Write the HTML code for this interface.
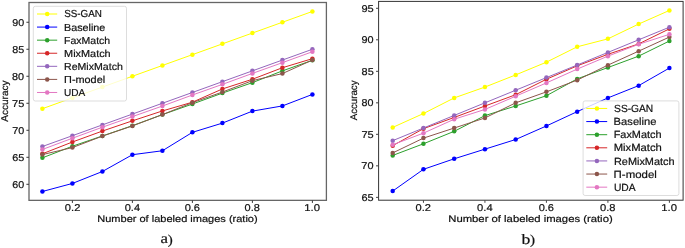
<!DOCTYPE html>
<html><head><meta charset="utf-8"><style>
html,body{margin:0;padding:0;background:#fff;}
body{width:685px;height:248px;overflow:hidden;}
svg{display:block;will-change:transform;}
text{text-rendering:geometricPrecision;stroke:#111;stroke-width:0.2px;}
text{font-family:"Liberation Sans",sans-serif;}
</style></head><body>
<svg width="685" height="248" viewBox="0 0 685 248">
<rect width="685" height="248" fill="#fff"/>
<polyline points="42.4,108.68 72.4,97.88 102.4,87.07 132.4,76.27 162.4,65.47 192.4,54.66 222.4,43.86 252.4,33.05 282.4,22.25 312.4,11.45" fill="none" stroke="#ffff00" stroke-width="1.0" stroke-linejoin="round" stroke-linecap="round"/>
<circle cx="42.4" cy="108.68" r="2.25" fill="#ffff00"/>
<circle cx="72.4" cy="97.88" r="2.25" fill="#ffff00"/>
<circle cx="102.4" cy="87.07" r="2.25" fill="#ffff00"/>
<circle cx="132.4" cy="76.27" r="2.25" fill="#ffff00"/>
<circle cx="162.4" cy="65.47" r="2.25" fill="#ffff00"/>
<circle cx="192.4" cy="54.66" r="2.25" fill="#ffff00"/>
<circle cx="222.4" cy="43.86" r="2.25" fill="#ffff00"/>
<circle cx="252.4" cy="33.05" r="2.25" fill="#ffff00"/>
<circle cx="282.4" cy="22.25" r="2.25" fill="#ffff00"/>
<circle cx="312.4" cy="11.45" r="2.25" fill="#ffff00"/>
<polyline points="42.4,191.49 72.4,183.45 102.4,171.51 132.4,154.71 162.4,150.76 192.4,132.34 222.4,123.11 252.4,111.11 282.4,105.93 312.4,94.42" fill="none" stroke="#0000ff" stroke-width="1.0" stroke-linejoin="round" stroke-linecap="round"/>
<circle cx="42.4" cy="191.49" r="2.25" fill="#0000ff"/>
<circle cx="72.4" cy="183.45" r="2.25" fill="#0000ff"/>
<circle cx="102.4" cy="171.51" r="2.25" fill="#0000ff"/>
<circle cx="132.4" cy="154.71" r="2.25" fill="#0000ff"/>
<circle cx="162.4" cy="150.76" r="2.25" fill="#0000ff"/>
<circle cx="192.4" cy="132.34" r="2.25" fill="#0000ff"/>
<circle cx="222.4" cy="123.11" r="2.25" fill="#0000ff"/>
<circle cx="252.4" cy="111.11" r="2.25" fill="#0000ff"/>
<circle cx="282.4" cy="105.93" r="2.25" fill="#0000ff"/>
<circle cx="312.4" cy="94.42" r="2.25" fill="#0000ff"/>
<polyline points="42.4,157.84 72.4,146.23 102.4,135.96 132.4,125.7 162.4,114.62 192.4,104.04 222.4,93.12 252.4,82.64 282.4,70.87 312.4,60.33" fill="none" stroke="#2ca02c" stroke-width="1.0" stroke-linejoin="round" stroke-linecap="round"/>
<circle cx="42.4" cy="157.84" r="2.25" fill="#2ca02c"/>
<circle cx="72.4" cy="146.23" r="2.25" fill="#2ca02c"/>
<circle cx="102.4" cy="135.96" r="2.25" fill="#2ca02c"/>
<circle cx="132.4" cy="125.7" r="2.25" fill="#2ca02c"/>
<circle cx="162.4" cy="114.62" r="2.25" fill="#2ca02c"/>
<circle cx="192.4" cy="104.04" r="2.25" fill="#2ca02c"/>
<circle cx="222.4" cy="93.12" r="2.25" fill="#2ca02c"/>
<circle cx="252.4" cy="82.64" r="2.25" fill="#2ca02c"/>
<circle cx="282.4" cy="70.87" r="2.25" fill="#2ca02c"/>
<circle cx="312.4" cy="60.33" r="2.25" fill="#2ca02c"/>
<polyline points="42.4,153.79 72.4,142.01 102.4,131.05 132.4,120.84 162.4,110.95 192.4,102.2 222.4,88.96 252.4,79.24 282.4,67.73 312.4,58.66" fill="none" stroke="#d62728" stroke-width="1.0" stroke-linejoin="round" stroke-linecap="round"/>
<circle cx="42.4" cy="153.79" r="2.25" fill="#d62728"/>
<circle cx="72.4" cy="142.01" r="2.25" fill="#d62728"/>
<circle cx="102.4" cy="131.05" r="2.25" fill="#d62728"/>
<circle cx="132.4" cy="120.84" r="2.25" fill="#d62728"/>
<circle cx="162.4" cy="110.95" r="2.25" fill="#d62728"/>
<circle cx="192.4" cy="102.2" r="2.25" fill="#d62728"/>
<circle cx="222.4" cy="88.96" r="2.25" fill="#d62728"/>
<circle cx="252.4" cy="79.24" r="2.25" fill="#d62728"/>
<circle cx="282.4" cy="67.73" r="2.25" fill="#d62728"/>
<circle cx="312.4" cy="58.66" r="2.25" fill="#d62728"/>
<polyline points="42.4,146.5 72.4,135.69 102.4,124.89 132.4,114.08 162.4,103.28 192.4,92.48 222.4,81.67 252.4,70.87 282.4,60.06 312.4,49.26" fill="none" stroke="#9467bd" stroke-width="1.0" stroke-linejoin="round" stroke-linecap="round"/>
<circle cx="42.4" cy="146.5" r="2.25" fill="#9467bd"/>
<circle cx="72.4" cy="135.69" r="2.25" fill="#9467bd"/>
<circle cx="102.4" cy="124.89" r="2.25" fill="#9467bd"/>
<circle cx="132.4" cy="114.08" r="2.25" fill="#9467bd"/>
<circle cx="162.4" cy="103.28" r="2.25" fill="#9467bd"/>
<circle cx="192.4" cy="92.48" r="2.25" fill="#9467bd"/>
<circle cx="222.4" cy="81.67" r="2.25" fill="#9467bd"/>
<circle cx="252.4" cy="70.87" r="2.25" fill="#9467bd"/>
<circle cx="282.4" cy="60.06" r="2.25" fill="#9467bd"/>
<circle cx="312.4" cy="49.26" r="2.25" fill="#9467bd"/>
<polyline points="42.4,154.6 72.4,147.58 102.4,136.12 132.4,125.91 162.4,114.62 192.4,102.63 222.4,92.04 252.4,80.65 282.4,73.57 312.4,60.06" fill="none" stroke="#8c564b" stroke-width="1.0" stroke-linejoin="round" stroke-linecap="round"/>
<circle cx="42.4" cy="154.6" r="2.25" fill="#8c564b"/>
<circle cx="72.4" cy="147.58" r="2.25" fill="#8c564b"/>
<circle cx="102.4" cy="136.12" r="2.25" fill="#8c564b"/>
<circle cx="132.4" cy="125.91" r="2.25" fill="#8c564b"/>
<circle cx="162.4" cy="114.62" r="2.25" fill="#8c564b"/>
<circle cx="192.4" cy="102.63" r="2.25" fill="#8c564b"/>
<circle cx="222.4" cy="92.04" r="2.25" fill="#8c564b"/>
<circle cx="252.4" cy="80.65" r="2.25" fill="#8c564b"/>
<circle cx="282.4" cy="73.57" r="2.25" fill="#8c564b"/>
<circle cx="312.4" cy="60.06" r="2.25" fill="#8c564b"/>
<polyline points="42.4,149.47 72.4,138.23 102.4,127.21 132.4,116.62 162.4,106.04 192.4,95.01 222.4,84.37 252.4,73.41 282.4,62.66 312.4,51.74" fill="none" stroke="#e377c2" stroke-width="1.0" stroke-linejoin="round" stroke-linecap="round"/>
<circle cx="42.4" cy="149.47" r="2.25" fill="#e377c2"/>
<circle cx="72.4" cy="138.23" r="2.25" fill="#e377c2"/>
<circle cx="102.4" cy="127.21" r="2.25" fill="#e377c2"/>
<circle cx="132.4" cy="116.62" r="2.25" fill="#e377c2"/>
<circle cx="162.4" cy="106.04" r="2.25" fill="#e377c2"/>
<circle cx="192.4" cy="95.01" r="2.25" fill="#e377c2"/>
<circle cx="222.4" cy="84.37" r="2.25" fill="#e377c2"/>
<circle cx="252.4" cy="73.41" r="2.25" fill="#e377c2"/>
<circle cx="282.4" cy="62.66" r="2.25" fill="#e377c2"/>
<circle cx="312.4" cy="51.74" r="2.25" fill="#e377c2"/>
<rect x="33.3" y="6.3" width="93.2" height="94.7" rx="2" ry="2" fill="#fff" fill-opacity="0.8" stroke="#d4d4d4" stroke-width="0.8"/>
<line x1="37" y1="14" x2="57.2" y2="14" stroke="#ffff00" stroke-width="1.0"/>
<circle cx="47.2" cy="14" r="2.25" fill="#ffff00"/>
<line x1="37" y1="27.08" x2="57.2" y2="27.08" stroke="#0000ff" stroke-width="1.0"/>
<circle cx="47.2" cy="27.08" r="2.25" fill="#0000ff"/>
<line x1="37" y1="40.16" x2="57.2" y2="40.16" stroke="#2ca02c" stroke-width="1.0"/>
<circle cx="47.2" cy="40.16" r="2.25" fill="#2ca02c"/>
<line x1="37" y1="53.24" x2="57.2" y2="53.24" stroke="#d62728" stroke-width="1.0"/>
<circle cx="47.2" cy="53.24" r="2.25" fill="#d62728"/>
<line x1="37" y1="66.32" x2="57.2" y2="66.32" stroke="#9467bd" stroke-width="1.0"/>
<circle cx="47.2" cy="66.32" r="2.25" fill="#9467bd"/>
<line x1="37" y1="79.4" x2="57.2" y2="79.4" stroke="#8c564b" stroke-width="1.0"/>
<circle cx="47.2" cy="79.4" r="2.25" fill="#8c564b"/>
<line x1="37" y1="92.48" x2="57.2" y2="92.48" stroke="#e377c2" stroke-width="1.0"/>
<circle cx="47.2" cy="92.48" r="2.25" fill="#e377c2"/>
<rect x="29" y="2.5" width="297.4" height="197.85" fill="none" stroke="#666" stroke-width="1.3"/>
<line x1="26.4" y1="184.31" x2="29" y2="184.31" stroke="#3a3a3a" stroke-width="1.0"/>
<line x1="26.4" y1="157.3" x2="29" y2="157.3" stroke="#3a3a3a" stroke-width="1.0"/>
<line x1="26.4" y1="130.29" x2="29" y2="130.29" stroke="#3a3a3a" stroke-width="1.0"/>
<line x1="26.4" y1="103.28" x2="29" y2="103.28" stroke="#3a3a3a" stroke-width="1.0"/>
<line x1="26.4" y1="76.27" x2="29" y2="76.27" stroke="#3a3a3a" stroke-width="1.0"/>
<line x1="26.4" y1="49.26" x2="29" y2="49.26" stroke="#3a3a3a" stroke-width="1.0"/>
<line x1="26.4" y1="22.25" x2="29" y2="22.25" stroke="#3a3a3a" stroke-width="1.0"/>
<line x1="72.4" y1="200.35" x2="72.4" y2="202.95" stroke="#3a3a3a" stroke-width="1.0"/>
<line x1="132.4" y1="200.35" x2="132.4" y2="202.95" stroke="#3a3a3a" stroke-width="1.0"/>
<line x1="192.4" y1="200.35" x2="192.4" y2="202.95" stroke="#3a3a3a" stroke-width="1.0"/>
<line x1="252.4" y1="200.35" x2="252.4" y2="202.95" stroke="#3a3a3a" stroke-width="1.0"/>
<line x1="312.4" y1="200.35" x2="312.4" y2="202.95" stroke="#3a3a3a" stroke-width="1.0"/>
<polyline points="392.7,127.41 423.44,113.54 454.19,97.91 484.93,87.07 515.68,74.91 546.42,62.18 577.17,46.81 607.91,38.86 638.66,24.05 669.4,10.44" fill="none" stroke="#ffff00" stroke-width="1.0" stroke-linejoin="round" stroke-linecap="round"/>
<circle cx="392.7" cy="127.41" r="2.25" fill="#ffff00"/>
<circle cx="423.44" cy="113.54" r="2.25" fill="#ffff00"/>
<circle cx="454.19" cy="97.91" r="2.25" fill="#ffff00"/>
<circle cx="484.93" cy="87.07" r="2.25" fill="#ffff00"/>
<circle cx="515.68" cy="74.91" r="2.25" fill="#ffff00"/>
<circle cx="546.42" cy="62.18" r="2.25" fill="#ffff00"/>
<circle cx="577.17" cy="46.81" r="2.25" fill="#ffff00"/>
<circle cx="607.91" cy="38.86" r="2.25" fill="#ffff00"/>
<circle cx="638.66" cy="24.05" r="2.25" fill="#ffff00"/>
<circle cx="669.4" cy="10.44" r="2.25" fill="#ffff00"/>
<polyline points="392.7,191.06 423.44,169.32 454.19,158.79 484.93,149.15 515.68,139.51 546.42,125.96 577.17,111.65 607.91,97.91 638.66,85.63 669.4,68.04" fill="none" stroke="#0000ff" stroke-width="1.0" stroke-linejoin="round" stroke-linecap="round"/>
<circle cx="392.7" cy="191.06" r="2.25" fill="#0000ff"/>
<circle cx="423.44" cy="169.32" r="2.25" fill="#0000ff"/>
<circle cx="454.19" cy="158.79" r="2.25" fill="#0000ff"/>
<circle cx="484.93" cy="149.15" r="2.25" fill="#0000ff"/>
<circle cx="515.68" cy="139.51" r="2.25" fill="#0000ff"/>
<circle cx="546.42" cy="125.96" r="2.25" fill="#0000ff"/>
<circle cx="577.17" cy="111.65" r="2.25" fill="#0000ff"/>
<circle cx="607.91" cy="97.91" r="2.25" fill="#0000ff"/>
<circle cx="638.66" cy="85.63" r="2.25" fill="#0000ff"/>
<circle cx="669.4" cy="68.04" r="2.25" fill="#0000ff"/>
<polyline points="392.7,155.45 423.44,143.79 454.19,131.32 484.93,115.62 515.68,105.98 546.42,95.71 577.17,78.88 607.91,67.54 638.66,56.13 669.4,41.01" fill="none" stroke="#2ca02c" stroke-width="1.0" stroke-linejoin="round" stroke-linecap="round"/>
<circle cx="392.7" cy="155.45" r="2.25" fill="#2ca02c"/>
<circle cx="423.44" cy="143.79" r="2.25" fill="#2ca02c"/>
<circle cx="454.19" cy="131.32" r="2.25" fill="#2ca02c"/>
<circle cx="484.93" cy="115.62" r="2.25" fill="#2ca02c"/>
<circle cx="515.68" cy="105.98" r="2.25" fill="#2ca02c"/>
<circle cx="546.42" cy="95.71" r="2.25" fill="#2ca02c"/>
<circle cx="577.17" cy="78.88" r="2.25" fill="#2ca02c"/>
<circle cx="607.91" cy="67.54" r="2.25" fill="#2ca02c"/>
<circle cx="638.66" cy="56.13" r="2.25" fill="#2ca02c"/>
<circle cx="669.4" cy="41.01" r="2.25" fill="#2ca02c"/>
<polyline points="392.7,145.68 423.44,128.67 454.19,117.45 484.93,106.04 515.68,94.7 546.42,79.26 577.17,65.84 607.91,54.3 638.66,43.91 669.4,28.84" fill="none" stroke="#d62728" stroke-width="1.0" stroke-linejoin="round" stroke-linecap="round"/>
<circle cx="392.7" cy="145.68" r="2.25" fill="#d62728"/>
<circle cx="423.44" cy="128.67" r="2.25" fill="#d62728"/>
<circle cx="454.19" cy="117.45" r="2.25" fill="#d62728"/>
<circle cx="484.93" cy="106.04" r="2.25" fill="#d62728"/>
<circle cx="515.68" cy="94.7" r="2.25" fill="#d62728"/>
<circle cx="546.42" cy="79.26" r="2.25" fill="#d62728"/>
<circle cx="577.17" cy="65.84" r="2.25" fill="#d62728"/>
<circle cx="607.91" cy="54.3" r="2.25" fill="#d62728"/>
<circle cx="638.66" cy="43.91" r="2.25" fill="#d62728"/>
<circle cx="669.4" cy="28.84" r="2.25" fill="#d62728"/>
<polyline points="392.7,140.64 423.44,128.04 454.19,115.43 484.93,102.83 515.68,90.23 546.42,77.62 577.17,65.02 607.91,52.41 638.66,39.81 669.4,27.21" fill="none" stroke="#9467bd" stroke-width="1.0" stroke-linejoin="round" stroke-linecap="round"/>
<circle cx="392.7" cy="140.64" r="2.25" fill="#9467bd"/>
<circle cx="423.44" cy="128.04" r="2.25" fill="#9467bd"/>
<circle cx="454.19" cy="115.43" r="2.25" fill="#9467bd"/>
<circle cx="484.93" cy="102.83" r="2.25" fill="#9467bd"/>
<circle cx="515.68" cy="90.23" r="2.25" fill="#9467bd"/>
<circle cx="546.42" cy="77.62" r="2.25" fill="#9467bd"/>
<circle cx="577.17" cy="65.02" r="2.25" fill="#9467bd"/>
<circle cx="607.91" cy="52.41" r="2.25" fill="#9467bd"/>
<circle cx="638.66" cy="39.81" r="2.25" fill="#9467bd"/>
<circle cx="669.4" cy="27.21" r="2.25" fill="#9467bd"/>
<polyline points="392.7,152.93 423.44,138.12 454.19,128.04 484.93,117.95 515.68,102.83 546.42,91.86 577.17,80.14 607.91,65.14 638.66,51.15 669.4,37.04" fill="none" stroke="#8c564b" stroke-width="1.0" stroke-linejoin="round" stroke-linecap="round"/>
<circle cx="392.7" cy="152.93" r="2.25" fill="#8c564b"/>
<circle cx="423.44" cy="138.12" r="2.25" fill="#8c564b"/>
<circle cx="454.19" cy="128.04" r="2.25" fill="#8c564b"/>
<circle cx="484.93" cy="117.95" r="2.25" fill="#8c564b"/>
<circle cx="515.68" cy="102.83" r="2.25" fill="#8c564b"/>
<circle cx="546.42" cy="91.86" r="2.25" fill="#8c564b"/>
<circle cx="577.17" cy="80.14" r="2.25" fill="#8c564b"/>
<circle cx="607.91" cy="65.14" r="2.25" fill="#8c564b"/>
<circle cx="638.66" cy="51.15" r="2.25" fill="#8c564b"/>
<circle cx="669.4" cy="37.04" r="2.25" fill="#8c564b"/>
<polyline points="392.7,144.74 423.44,133.14 454.19,119.22 484.93,109.45 515.68,96.21 546.42,82.92 577.17,69.11 607.91,56.13 638.66,44.28 669.4,34.33" fill="none" stroke="#e377c2" stroke-width="1.0" stroke-linejoin="round" stroke-linecap="round"/>
<circle cx="392.7" cy="144.74" r="2.25" fill="#e377c2"/>
<circle cx="423.44" cy="133.14" r="2.25" fill="#e377c2"/>
<circle cx="454.19" cy="119.22" r="2.25" fill="#e377c2"/>
<circle cx="484.93" cy="109.45" r="2.25" fill="#e377c2"/>
<circle cx="515.68" cy="96.21" r="2.25" fill="#e377c2"/>
<circle cx="546.42" cy="82.92" r="2.25" fill="#e377c2"/>
<circle cx="577.17" cy="69.11" r="2.25" fill="#e377c2"/>
<circle cx="607.91" cy="56.13" r="2.25" fill="#e377c2"/>
<circle cx="638.66" cy="44.28" r="2.25" fill="#e377c2"/>
<circle cx="669.4" cy="34.33" r="2.25" fill="#e377c2"/>
<rect x="583.1" y="100.9" width="95.8" height="94.6" rx="2" ry="2" fill="#fff" fill-opacity="0.8" stroke="#d4d4d4" stroke-width="0.8"/>
<line x1="586.3" y1="108.45" x2="607.2" y2="108.45" stroke="#ffff00" stroke-width="1.0"/>
<circle cx="596.9" cy="108.45" r="2.25" fill="#ffff00"/>
<line x1="586.3" y1="121.57" x2="607.2" y2="121.57" stroke="#0000ff" stroke-width="1.0"/>
<circle cx="596.9" cy="121.57" r="2.25" fill="#0000ff"/>
<line x1="586.3" y1="134.69" x2="607.2" y2="134.69" stroke="#2ca02c" stroke-width="1.0"/>
<circle cx="596.9" cy="134.69" r="2.25" fill="#2ca02c"/>
<line x1="586.3" y1="147.81" x2="607.2" y2="147.81" stroke="#d62728" stroke-width="1.0"/>
<circle cx="596.9" cy="147.81" r="2.25" fill="#d62728"/>
<line x1="586.3" y1="160.93" x2="607.2" y2="160.93" stroke="#9467bd" stroke-width="1.0"/>
<circle cx="596.9" cy="160.93" r="2.25" fill="#9467bd"/>
<line x1="586.3" y1="174.05" x2="607.2" y2="174.05" stroke="#8c564b" stroke-width="1.0"/>
<circle cx="596.9" cy="174.05" r="2.25" fill="#8c564b"/>
<line x1="586.3" y1="187.17" x2="607.2" y2="187.17" stroke="#e377c2" stroke-width="1.0"/>
<circle cx="596.9" cy="187.17" r="2.25" fill="#e377c2"/>
<rect x="378.6" y="1.4" width="304.5" height="198.8" fill="none" stroke="#333" stroke-width="1.0"/>
<line x1="376" y1="197.36" x2="378.6" y2="197.36" stroke="#444" stroke-width="1.0"/>
<line x1="376" y1="165.85" x2="378.6" y2="165.85" stroke="#444" stroke-width="1.0"/>
<line x1="376" y1="134.34" x2="378.6" y2="134.34" stroke="#444" stroke-width="1.0"/>
<line x1="376" y1="102.83" x2="378.6" y2="102.83" stroke="#444" stroke-width="1.0"/>
<line x1="376" y1="71.32" x2="378.6" y2="71.32" stroke="#444" stroke-width="1.0"/>
<line x1="376" y1="39.81" x2="378.6" y2="39.81" stroke="#444" stroke-width="1.0"/>
<line x1="376" y1="8.3" x2="378.6" y2="8.3" stroke="#444" stroke-width="1.0"/>
<line x1="423.44" y1="200.2" x2="423.44" y2="202.8" stroke="#444" stroke-width="1.0"/>
<line x1="484.93" y1="200.2" x2="484.93" y2="202.8" stroke="#444" stroke-width="1.0"/>
<line x1="546.42" y1="200.2" x2="546.42" y2="202.8" stroke="#444" stroke-width="1.0"/>
<line x1="607.91" y1="200.2" x2="607.91" y2="202.8" stroke="#444" stroke-width="1.0"/>
<line x1="669.4" y1="200.2" x2="669.4" y2="202.8" stroke="#444" stroke-width="1.0"/>
<text x="12.36" y="25.60" textLength="11.94" lengthAdjust="spacingAndGlyphs" style="font-family:'Liberation Sans',sans-serif;font-size:9.9px" fill="#111">90</text>
<text x="12.33" y="53.11" textLength="11.95" lengthAdjust="spacingAndGlyphs" style="font-family:'Liberation Sans',sans-serif;font-size:9.9px" fill="#111">85</text>
<text x="12.05" y="80.14" textLength="12.04" lengthAdjust="spacingAndGlyphs" style="font-family:'Liberation Sans',sans-serif;font-size:9.9px" fill="#111">80</text>
<text x="12.06" y="106.65" textLength="12.19" lengthAdjust="spacingAndGlyphs" style="font-family:'Liberation Sans',sans-serif;font-size:9.9px" fill="#111">75</text>
<text x="12.27" y="133.70" textLength="11.99" lengthAdjust="spacingAndGlyphs" style="font-family:'Liberation Sans',sans-serif;font-size:9.9px" fill="#111">70</text>
<text x="12.22" y="160.70" textLength="12.11" lengthAdjust="spacingAndGlyphs" style="font-family:'Liberation Sans',sans-serif;font-size:9.9px" fill="#111">65</text>
<text x="12.22" y="187.70" textLength="11.93" lengthAdjust="spacingAndGlyphs" style="font-family:'Liberation Sans',sans-serif;font-size:9.9px" fill="#111">60</text>
<text x="64.85" y="210.70" textLength="15.50" lengthAdjust="spacingAndGlyphs" style="font-family:'Liberation Sans',sans-serif;font-size:9.9px" fill="#111">0.2</text>
<text x="124.70" y="210.70" textLength="15.36" lengthAdjust="spacingAndGlyphs" style="font-family:'Liberation Sans',sans-serif;font-size:9.9px" fill="#111">0.4</text>
<text x="184.65" y="210.70" textLength="15.39" lengthAdjust="spacingAndGlyphs" style="font-family:'Liberation Sans',sans-serif;font-size:9.9px" fill="#111">0.6</text>
<text x="244.64" y="210.70" textLength="15.28" lengthAdjust="spacingAndGlyphs" style="font-family:'Liberation Sans',sans-serif;font-size:9.9px" fill="#111">0.8</text>
<text x="304.24" y="210.70" textLength="15.72" lengthAdjust="spacingAndGlyphs" style="font-family:'Liberation Sans',sans-serif;font-size:9.9px" fill="#111">1.0</text>
<text x="97.28" y="221.72" textLength="160.40" lengthAdjust="spacingAndGlyphs" style="font-family:'Liberation Sans',sans-serif;font-size:9.6px" fill="#111">Number of labeled images (ratio)</text>
<text transform="translate(8.10 121.66) rotate(-90)" x="0" y="0" textLength="41.16" lengthAdjust="spacingAndGlyphs" style="font-family:'Liberation Sans',sans-serif;font-size:9.8px" fill="#111">Accuracy</text>
<text x="64.13" y="17.03" textLength="37.74" lengthAdjust="spacingAndGlyphs" style="font-family:'Liberation Sans',sans-serif;font-size:10.2px" fill="#111">SS-GAN</text>
<text x="64.00" y="30.57" textLength="41.37" lengthAdjust="spacingAndGlyphs" style="font-family:'Liberation Sans',sans-serif;font-size:10.2px" fill="#111">Baseline</text>
<text x="64.13" y="43.64" textLength="46.09" lengthAdjust="spacingAndGlyphs" style="font-family:'Liberation Sans',sans-serif;font-size:10.2px" fill="#111">FaxMatch</text>
<text x="64.09" y="56.71" textLength="46.59" lengthAdjust="spacingAndGlyphs" style="font-family:'Liberation Sans',sans-serif;font-size:10.2px" fill="#111">MixMatch</text>
<text x="64.05" y="69.78" textLength="58.75" lengthAdjust="spacingAndGlyphs" style="font-family:'Liberation Sans',sans-serif;font-size:10.2px" fill="#111">ReMixMatch</text>
<text x="64.06" y="82.85" textLength="41.09" lengthAdjust="spacingAndGlyphs" style="font-family:'Liberation Sans',sans-serif;font-size:10.2px" fill="#111">Π-model</text>
<text x="63.91" y="95.92" textLength="21.19" lengthAdjust="spacingAndGlyphs" style="font-family:'Liberation Sans',sans-serif;font-size:10.2px" fill="#111">UDA</text>
<text x="361.43" y="12.13" textLength="12.29" lengthAdjust="spacingAndGlyphs" style="font-family:'Liberation Sans',sans-serif;font-size:9.9px" fill="#111">95</text>
<text x="361.47" y="43.10" textLength="12.09" lengthAdjust="spacingAndGlyphs" style="font-family:'Liberation Sans',sans-serif;font-size:9.9px" fill="#111">90</text>
<text x="361.59" y="74.69" textLength="12.12" lengthAdjust="spacingAndGlyphs" style="font-family:'Liberation Sans',sans-serif;font-size:9.9px" fill="#111">85</text>
<text x="361.58" y="106.10" textLength="11.95" lengthAdjust="spacingAndGlyphs" style="font-family:'Liberation Sans',sans-serif;font-size:9.9px" fill="#111">80</text>
<text x="361.44" y="138.17" textLength="12.25" lengthAdjust="spacingAndGlyphs" style="font-family:'Liberation Sans',sans-serif;font-size:9.9px" fill="#111">75</text>
<text x="361.39" y="169.10" textLength="12.14" lengthAdjust="spacingAndGlyphs" style="font-family:'Liberation Sans',sans-serif;font-size:9.9px" fill="#111">70</text>
<text x="361.49" y="200.95" textLength="12.18" lengthAdjust="spacingAndGlyphs" style="font-family:'Liberation Sans',sans-serif;font-size:9.9px" fill="#111">65</text>
<text x="415.64" y="210.70" textLength="15.41" lengthAdjust="spacingAndGlyphs" style="font-family:'Liberation Sans',sans-serif;font-size:9.9px" fill="#111">0.2</text>
<text x="477.14" y="210.70" textLength="15.53" lengthAdjust="spacingAndGlyphs" style="font-family:'Liberation Sans',sans-serif;font-size:9.9px" fill="#111">0.4</text>
<text x="538.65" y="210.70" textLength="15.39" lengthAdjust="spacingAndGlyphs" style="font-family:'Liberation Sans',sans-serif;font-size:9.9px" fill="#111">0.6</text>
<text x="600.05" y="210.70" textLength="15.51" lengthAdjust="spacingAndGlyphs" style="font-family:'Liberation Sans',sans-serif;font-size:9.9px" fill="#111">0.8</text>
<text x="661.24" y="210.70" textLength="15.72" lengthAdjust="spacingAndGlyphs" style="font-family:'Liberation Sans',sans-serif;font-size:9.9px" fill="#111">1.0</text>
<text x="448.25" y="221.70" textLength="164.44" lengthAdjust="spacingAndGlyphs" style="font-family:'Liberation Sans',sans-serif;font-size:9.6px" fill="#111">Number of labeled images (ratio)</text>
<text transform="translate(356.84 120.31) rotate(-90)" x="0" y="0" textLength="39.81" lengthAdjust="spacingAndGlyphs" style="font-family:'Liberation Sans',sans-serif;font-size:9.8px" fill="#111">Accuracy</text>
<text x="614.08" y="111.70" textLength="39.18" lengthAdjust="spacingAndGlyphs" style="font-family:'Liberation Sans',sans-serif;font-size:10.4px" fill="#111">SS-GAN</text>
<text x="613.62" y="124.83" textLength="42.90" lengthAdjust="spacingAndGlyphs" style="font-family:'Liberation Sans',sans-serif;font-size:10.4px" fill="#111">Baseline</text>
<text x="613.68" y="137.96" textLength="47.81" lengthAdjust="spacingAndGlyphs" style="font-family:'Liberation Sans',sans-serif;font-size:10.4px" fill="#111">FaxMatch</text>
<text x="613.71" y="151.04" textLength="48.17" lengthAdjust="spacingAndGlyphs" style="font-family:'Liberation Sans',sans-serif;font-size:10.4px" fill="#111">MixMatch</text>
<text x="613.94" y="164.82" textLength="60.67" lengthAdjust="spacingAndGlyphs" style="font-family:'Liberation Sans',sans-serif;font-size:10.4px" fill="#111">ReMixMatch</text>
<text x="613.62" y="178.13" textLength="43.23" lengthAdjust="spacingAndGlyphs" style="font-family:'Liberation Sans',sans-serif;font-size:10.4px" fill="#111">Π-model</text>
<text x="613.95" y="191.29" textLength="21.72" lengthAdjust="spacingAndGlyphs" style="font-family:'Liberation Sans',sans-serif;font-size:10.4px" fill="#111">UDA</text>
<text x="160.48" y="242.87" textLength="7.45" lengthAdjust="spacingAndGlyphs" style="font-family:'Liberation Serif',serif;font-size:14.4px" fill="#111">a</text>
<text x="167.89" y="243.87" textLength="5.02" lengthAdjust="spacingAndGlyphs" style="font-family:'Liberation Serif',serif;font-size:13.4px" fill="#111">)</text>
<text x="521.52" y="243.75" textLength="8.85" lengthAdjust="spacingAndGlyphs" style="font-family:'Liberation Serif',serif;font-size:14.4px" fill="#111">b</text>
<text x="529.92" y="243.69" textLength="5.05" lengthAdjust="spacingAndGlyphs" style="font-family:'Liberation Serif',serif;font-size:13.4px" fill="#111">)</text>
</svg>
</body></html>
